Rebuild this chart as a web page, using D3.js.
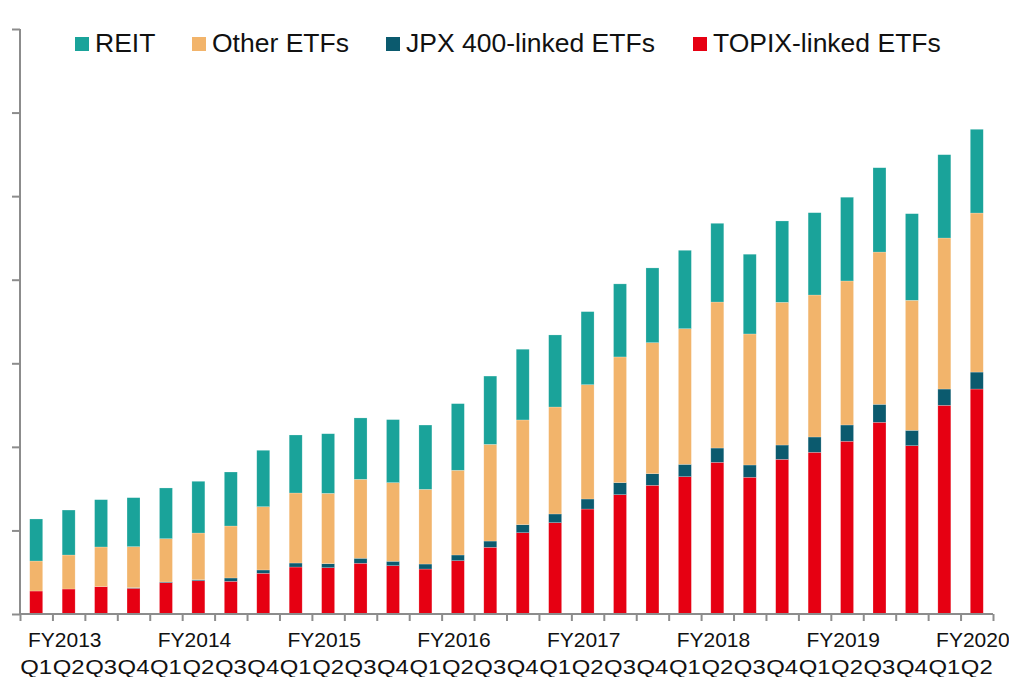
<!DOCTYPE html>
<html>
<head>
<meta charset="utf-8">
<script src="https://cdn.jsdelivr.net/npm/d3@7"></script>
<style>
  html, body { margin: 0; padding: 0; background: #fff; }
  svg { display: block; font-family: "Liberation Sans", Arial, sans-serif; }
</style>
</head>
<body>
<svg id="chart" width="1009" height="677"></svg>
<script>
// quarters FY2013 Q1 .. FY2020 Q2
const years = ['FY2013', 'FY2014', 'FY2015', 'FY2016', 'FY2017', 'FY2018', 'FY2019', 'FY2020']
const quarters = ['Q1', 'Q2', 'Q3', 'Q4']

// values (one tick step = 10)
const topix = [2.75, 2.99, 3.27, 3.08, 3.75, 3.98, 3.91, 4.87, 5.62, 5.54,
  6.07, 5.78, 5.38, 6.38, 7.98, 9.73, 10.93, 12.56, 14.28, 15.40,
  16.43, 18.15, 16.36, 18.51, 19.35, 20.67, 22.94, 20.14, 24.97, 26.92]
const jpx400 = [0, 0, 0, 0.07, 0.08, 0.12, 0.40, 0.40, 0.48, 0.48,
  0.60, 0.53, 0.60, 0.68, 0.75, 0.96, 1.04, 1.20, 1.44, 1.39,
  1.48, 1.71, 1.47, 1.71, 1.83, 1.95, 2.15, 1.84, 1.95, 2.03]
const otherEtfs = [3.59, 4.07, 4.75, 4.91, 5.18, 5.59, 6.22, 7.57, 8.38, 8.42,
  9.45, 9.41, 8.94, 10.14, 11.57, 12.53, 12.80, 13.68, 15.04, 15.68,
  16.23, 17.47, 15.68, 17.08, 16.99, 17.23, 18.22, 15.56, 18.07, 19.03]
const reit = [5.03, 5.38, 5.66, 5.86, 6.07, 6.19, 6.46, 6.75, 6.94, 7.13,
  7.34, 7.54, 7.69, 7.97, 8.17, 8.46, 8.62, 8.74, 8.74, 8.94,
  9.38, 9.42, 9.54, 9.73, 9.85, 10.02, 10.09, 10.36, 9.97, 10.02]

const seriesKeys = ['topix', 'jpx', 'other', 'reit']
const seriesNames = {
  reit: 'REIT',
  other: 'Other ETFs',
  jpx: 'JPX 400-linked ETFs',
  topix: 'TOPIX-linked ETFs'
}
const colors = {
  topix: '#e60012',
  jpx: '#0b5a6e',
  other: '#f2b46b',
  reit: '#1aa39a'
}
const legendOrder = ['reit', 'other', 'jpx', 'topix']

// build rows
const rows = topix.map((v, i) => ({
  idx: i,
  q: quarters[i % 4],
  year: years[Math.floor(i / 4)],
  topix: v,
  jpx: jpx400[i],
  other: otherEtfs[i],
  reit: reit[i]
}))

const svg = d3.select('#chart')
const plotLeft = 20
const plotRight = 993
const plotTop = 29
const plotBottom = 614
const axisColor = '#8c8c8c'

const x = d3.scaleBand()
  .domain(rows.map(d => d.idx))
  .range([plotLeft, plotRight])
  .paddingInner(0.6)
  .paddingOuter(0.3)

const xEdge = d3.scaleLinear().domain([0, rows.length]).range([plotLeft, plotRight])

const y = d3.scaleLinear().domain([0, 70]).range([plotBottom, plotTop])

const stacked = d3.stack().keys(seriesKeys)(rows)

// bars
svg.append('g')
  .selectAll('g')
  .data(stacked)
  .join('g')
  .attr('fill', d => colors[d.key])
  .selectAll('rect')
  .data(d => d)
  .join('rect')
  .attr('x', d => x(d.data.idx))
  .attr('width', x.bandwidth())
  .attr('y', d => y(d[1]))
  .attr('height', d => y(d[0]) - y(d[1]))
  .attr('stroke', '#fff')
  .attr('stroke-opacity', 0.35)
  .attr('stroke-width', 0.6)

// y axis, no labels
const yAxis = svg.append('g')
  .attr('transform', `translate(${plotLeft},0)`)
  .call(d3.axisLeft(y).tickValues(d3.range(0, 71, 10)).tickSize(8).tickFormat(''))
yAxis.select('.domain').attr('stroke', axisColor).attr('stroke-width', 2)
  .attr('d', `M0,${plotTop}V${plotBottom}`)
yAxis.selectAll('.tick line').attr('stroke', axisColor).attr('stroke-width', 2)

// x axis with ticks between categories
const xAxis = svg.append('g')
  .attr('transform', `translate(0,${plotBottom})`)
  .call(d3.axisBottom(xEdge).tickValues(d3.range(0, rows.length + 1)).tickSize(7).tickFormat(''))
xAxis.select('.domain').attr('stroke', axisColor).attr('stroke-width', 2)
  .attr('d', `M${plotLeft},0H${plotRight}`)
xAxis.selectAll('.tick line').attr('stroke', axisColor).attr('stroke-width', 2)

// quarter labels (they run into each other in the original)
svg.append('g')
  .selectAll('text')
  .data(rows)
  .join('text')
  .attr('x', d => x(d.idx) + x.bandwidth() / 2)
  .attr('y', 674)
  .attr('text-anchor', 'middle')
  .attr('font-size', 21)
  .attr('textLength', x.step() - 0.6)
  .attr('lengthAdjust', 'spacingAndGlyphs')
  .attr('fill', '#111')
  .text(d => d.q)

// fiscal year labels, sitting a bit right of each year's first quarter
svg.append('g')
  .selectAll('text')
  .data(rows.filter(d => d.q === 'Q1'))
  .join('text')
  .attr('x', d => x(d.idx) + x.bandwidth() / 2 + x.step() * 0.88)
  .attr('y', 647)
  .attr('text-anchor', 'middle')
  .attr('font-size', 21)
  .attr('fill', '#111')
  .text(d => d.year)

// legend
const legendX = [75, 192, 386, 693]
const legend = svg.append('g')
  .selectAll('g')
  .data(legendOrder)
  .join('g')
  .attr('transform', (d, i) => `translate(${legendX[i]},37)`)
legend.append('rect')
  .attr('width', 14)
  .attr('height', 14)
  .attr('fill', d => colors[d])
legend.append('text')
  .attr('x', 20)
  .attr('y', 15)
  .attr('font-size', 26.5)
  .attr('fill', '#111')
  .text(d => seriesNames[d])
</script>
</body>
</html>
